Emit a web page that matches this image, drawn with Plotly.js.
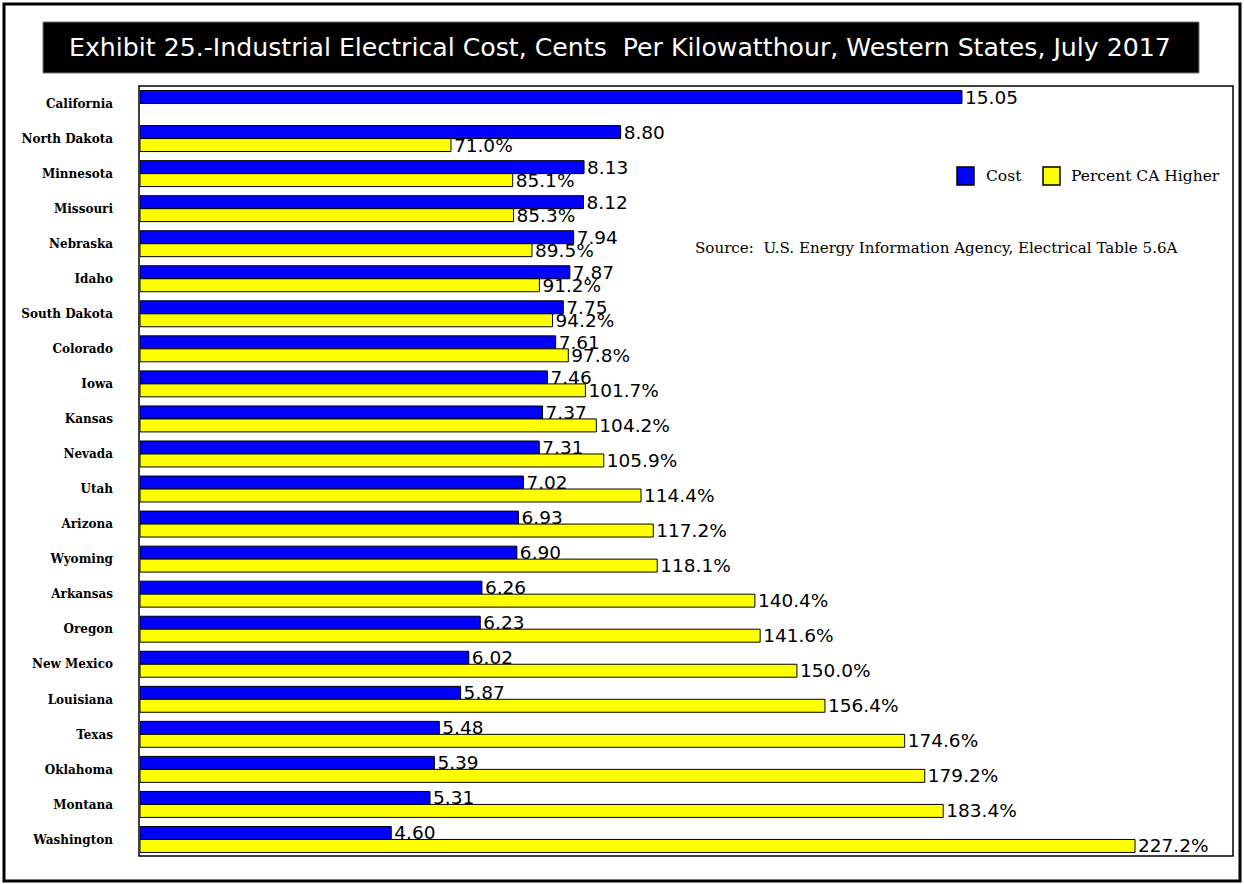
<!DOCTYPE html>
<html>
<head>
<meta charset="utf-8">
<script src="https://cdn.plot.ly/plotly-3.0.1.min.js"></script>
<style>html,body{margin:0;padding:0;background:#fff;}#chart{width:1244px;height:884px;}</style>
</head>
<body>
<div id="chart"></div>
<script>
const states = ["California","North Dakota","Minnesota","Missouri","Nebraska","Idaho","South Dakota","Colorado","Iowa","Kansas","Nevada","Utah","Arizona","Wyoming","Arkansas","Oregon","New Mexico","Louisiana","Texas","Oklahoma","Montana","Washington"];
const cost = [15.05,8.80,8.13,8.12,7.94,7.87,7.75,7.61,7.46,7.37,7.31,7.02,6.93,6.90,6.26,6.23,6.02,5.87,5.48,5.39,5.31,4.60];
const pctHigher = [null,71.0,85.1,85.3,89.5,91.2,94.2,97.8,101.7,104.2,105.9,114.4,117.2,118.1,140.4,141.6,150.0,156.4,174.6,179.2,183.4,227.2];
const titleText = "Exhibit 25.-Industrial Electrical Cost, Cents  Per Kilowatthour, Western States, July 2017";
const sourceText = "Source:  U.S. Energy Information Agency, Electrical Table 5.6A";
const seriesNames = ["Cost","Percent CA Higher"];
const seriesColors = ["#0000ff","#ffff00"];

const W = 1244, H = 884;
const M = {l:140, r:10, t:86, b:27};
const PW = W - M.l - M.r, PH = H - M.t - M.b;
const px = x => (x - M.l) / PW;
const py = y => (H - M.b - y) / PH;

const barW = 0.37;
const labelFont = {family:'DejaVu Sans', size:18.5, color:'#000'};
const traces = [
  {
    type:'bar', orientation:'h', name:seriesNames[0],
    y: states, x: cost, xaxis:'x', yaxis:'y',
    width: barW, offset: -barW,
    marker:{color:seriesColors[0], line:{color:'#000', width:1}},
    text: cost.map(v => v.toFixed(2)), textposition:'outside',
    textfont: labelFont, constraintext:'none', cliponaxis:false, hoverinfo:'x+y'
  },
  {
    type:'bar', orientation:'h', name:seriesNames[1],
    y: states, x: pctHigher, xaxis:'x2', yaxis:'y',
    width: barW, offset: 0,
    marker:{color:seriesColors[1], line:{color:'#000', width:1}},
    text: pctHigher.map(v => v == null ? '' : v.toFixed(1) + '%'), textposition:'outside',
    textfont: labelFont, constraintext:'none', cliponaxis:false, hoverinfo:'x+y'
  }
];

// legend (drawn as shapes + text to match the reference's large swatches)
const legendItems = [
  {sx0:957, sx1:974, tx:984},
  {sx0:1043, sx1:1060, tx:1069}
];
const legendShapes = legendItems.map((it, i) => ({
  type:'rect', xref:'paper', yref:'paper', x0:px(it.sx0), x1:px(it.sx1), y0:py(185), y1:py(167),
  fillcolor:seriesColors[i], line:{color:'#000', width:1.5}
}));
const legendTexts = legendItems.map((it, i) => ({
  xref:'paper', yref:'paper', x:px(it.tx), y:py(176), xanchor:'left', yanchor:'middle', showarrow:false,
  text: seriesNames[i], font:{family:'DejaVu Serif', size:15.5, color:'#000'}
}));

const layout = {
  width: W, height: H,
  margin: M,
  paper_bgcolor:'#fff', plot_bgcolor:'#fff',
  showlegend: false,
  xaxis: {range:[0, 20.03], showgrid:false, zeroline:false, showticklabels:false, ticks:'', fixedrange:true},
  xaxis2: {range:[0, 249.8], overlaying:'x', side:'top', showgrid:false, zeroline:false, showticklabels:false, ticks:'', fixedrange:true},
  yaxis: {type:'category', autorange:false, range:[states.length - 0.5, -0.5], showgrid:false, zeroline:false,
          ticks:'', ticklabelstandoff:26,
          tickfont:{family:'DejaVu Serif', size:12, color:'#000', weight:'bold'}},
  shapes: [
    {type:'rect', xref:'paper', yref:'paper', x0:px(4), x1:px(1240), y0:py(881), y1:py(4), line:{color:'#000', width:3}, layer:'below'},
    {type:'rect', xref:'paper', yref:'paper', x0:px(43), x1:px(1199), y0:py(73), y1:py(22), fillcolor:'#000', line:{color:'#777', width:1}, layer:'below'},
    {type:'rect', xref:'paper', yref:'paper', x0:px(139), x1:px(1233), y0:py(856), y1:py(86), line:{color:'#000', width:1.5}, layer:'above'}
  ].concat(legendShapes),
  annotations: [
    {xref:'paper', yref:'paper', x:px(620), y:py(48), xanchor:'center', yanchor:'middle', showarrow:false,
     text: titleText, font:{family:'DejaVu Sans', size:25.2, color:'#fff'}},
    {xref:'paper', yref:'paper', x:px(693), y:py(248), xanchor:'left', yanchor:'middle', showarrow:false,
     text: sourceText, font:{family:'DejaVu Serif', size:15.1, color:'#000'}}
  ].concat(legendTexts)
};

Plotly.newPlot('chart', traces, layout, {displayModeBar:false, staticPlot:true});
</script>
</body>
</html>
